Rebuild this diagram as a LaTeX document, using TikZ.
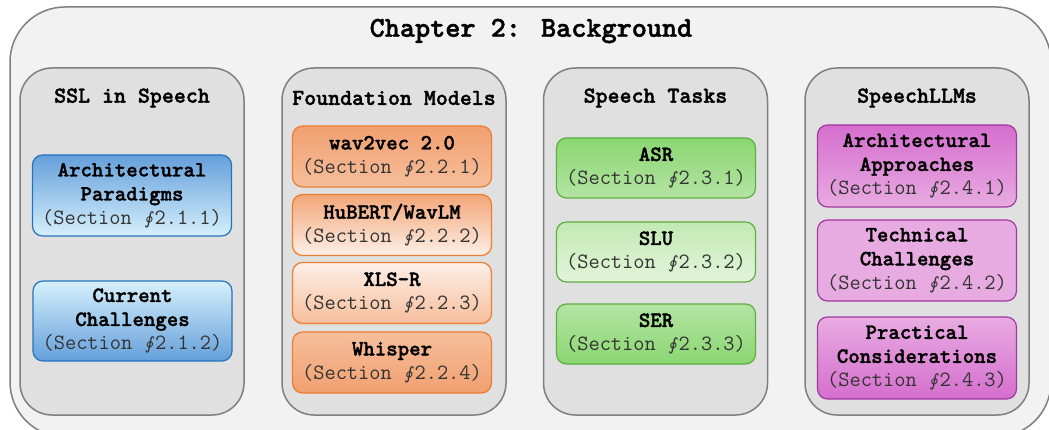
\documentclass[tikz,border=0pt]{standalone}
\usepackage{fontspec}
% heavier typewriter face for headings and topic names
\newfontfamily\heavytt[FakeBold=1.5]{lmmonolt10-bold.otf}
% contour-integral sign used in the section references
\newfontfamily\ointfont[FakeSlant=0.15]{DejaVu Sans}
\definecolor{frame}{HTML}{7F7F7F}
\definecolor{outerfill}{HTML}{F2F2F2}
\definecolor{groupfill}{HTML}{E0E0E0}
\definecolor{blueline}{HTML}{2572BE}
\definecolor{bluedark}{HTML}{649FDA}
\definecolor{bluelight}{HTML}{D6F0FC}
\definecolor{orangeline}{HTML}{ED7D31}
\definecolor{orangedark}{HTML}{F1A070}
\definecolor{orangemid}{HTML}{F6BE9C}
\definecolor{orangelight}{HTML}{FDEFE6}
\definecolor{greenline}{HTML}{5DAF40}
\definecolor{greendark}{HTML}{8AD772}
\definecolor{greenmid}{HTML}{B4E4A2}
\definecolor{greenlight}{HTML}{E2F5DA}
\definecolor{purpleline}{HTML}{A23A9E}
\definecolor{purpledark}{HTML}{D56ECE}
\definecolor{purplemid}{HTML}{E8ABE1}
\definecolor{purplelight}{HTML}{F5D7F1}
% section reference line under each topic name
\newcommand\secline[1]{{\ttfamily\mdseries\color{black!80}(Section \makebox[0.525em]{\ointfont\fontsize{17}{24}\selectfont ∮}#1)}}
\tikzset{
  outerbox/.style={draw=frame, fill=outerfill, line width=1.5pt, rounded corners=55pt},
  groupbox/.style={draw=frame, fill=groupfill, line width=1.5pt, rounded corners=32pt,
    minimum width=224pt, minimum height=347pt, inner sep=0pt},
  grouptitle/.style={font=\fontsize{22.8}{24}\selectfont\heavytt},
  charttitle/.style={font=\fontsize{28.8}{30}\selectfont\heavytt},
  topicbox/.style={line width=1.2pt, rounded corners=10pt, minimum width=199pt,
    inner sep=0pt, align=center, font=\fontsize{21.8}{24}\selectfont\heavytt},
  bluebox/.style={topicbox, draw=blueline},
  orangebox/.style={topicbox, draw=orangeline, minimum height=61pt},
  greenbox/.style={topicbox, draw=greenline, minimum height=60pt},
  purplebox/.style={topicbox, draw=purpleline, minimum height=82pt},
}
\begin{document}
\begin{tikzpicture}[x=1pt, y=-1pt]
\useasboundingbox (0,0) rectangle (1049,430);
% chapter frame
\draw[outerbox] (10,7) rectangle (1051,437);
\node[charttitle] (chapter) at (531,31) {Chapter 2: Background};

% four topic groups
\node[groupbox] (gssl) at (132,241.5) {};
\node[groupbox] (gfm)  at (394,241.5) {};
\node[groupbox] (gst)  at (655.5,241.5) {};
\node[groupbox] (gllm) at (917,241.5) {};
\node[grouptitle] (tssl) at (132,98) {SSL in Speech};
\node[grouptitle] (tfm)  at (394,98) {Foundation Models};
\node[grouptitle] (tst)  at (655.5,98) {Speech Tasks};
\node[grouptitle] (tllm) at (917,98) {SpeechLLMs};

% SSL in Speech
\node[bluebox, minimum height=81pt, top color=bluedark, bottom color=bluelight] (ap) at (132,195.5)
  {Architectural\\Paradigms\\\secline{2.1.1}};
\node[bluebox, minimum height=80pt, top color=bluelight, bottom color=bluedark] (cc) at (132.5,321)
  {Current\\Challenges\\\secline{2.1.2}};

% Foundation Models
\node[orangebox, top color=orangedark, bottom color=orangemid] (w2v) at (392,156.5)
  {wav2vec 2.0\\\secline{2.2.1}};
\node[orangebox, top color=orangedark!80!orangemid, bottom color=orangelight] (hub) at (392,225)
  {HuBERT/WavLM\\\secline{2.2.2}};
\node[orangebox, top color=orangelight, bottom color=orangemid] (xls) at (392,293)
  {XLS-R\\\secline{2.2.3}};
\node[orangebox, top color=orangemid, bottom color=orangedark] (whi) at (392,362.5)
  {Whisper\\\secline{2.2.4}};

% Speech Tasks
\node[greenbox, top color=greendark, bottom color=greenmid] (asr) at (656,168)
  {ASR\\\secline{2.3.1}};
\node[greenbox, top color=greenmid!70!greenlight, bottom color=greenlight] (slu) at (656,252)
  {SLU\\\secline{2.3.2}};
\node[greenbox, top color=greenmid, bottom color=greendark] (ser) at (656,334)
  {SER\\\secline{2.3.3}};

% SpeechLLMs
\node[purplebox, top color=purpledark, bottom color=purplemid] (aa) at (917,166)
  {Architectural\\Approaches\\\secline{2.4.1}};
\node[purplebox, minimum height=81pt, top color=purplemid, middle color=purplelight, bottom color=purplemid] (tc) at (917,260.5)
  {Technical\\Challenges\\\secline{2.4.2}};
\node[purplebox, top color=purplemid, bottom color=purpledark] (pc) at (917,358)
  {Practical\\Considerations\\\secline{2.4.3}};
\end{tikzpicture}
\end{document}
